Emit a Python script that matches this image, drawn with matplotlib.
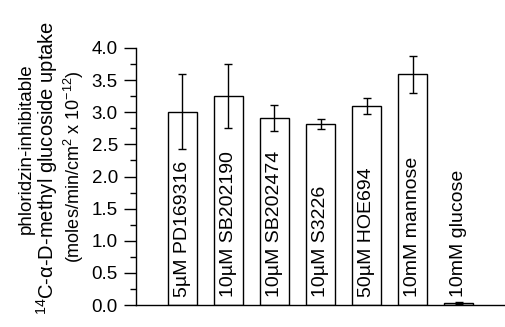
import matplotlib
matplotlib.use("Agg")
import matplotlib.pyplot as plt
from matplotlib.ticker import MultipleLocator

plt.rcParams['font.family'] = ['Liberation Sans', 'DejaVu Sans']
plt.rcParams['mathtext.fontset'] = 'custom'
plt.rcParams['mathtext.rm'] = 'Liberation Sans'
plt.rcParams['mathtext.it'] = 'Liberation Sans:italic'

labels = ["5µM PD169316", "10µM SB202190", "10µM SB202474", "10µM S3226",
          "50µM HOE694", "10mM mannose", "10mM glucose"]
values = [3.01, 3.25, 2.91, 2.82, 3.10, 3.59, 0.03]
errors = [0.58, 0.50, 0.20, 0.08, 0.12, 0.29, 0.02]
yticks = [0.0, 0.5, 1.0, 1.5, 2.0, 2.5, 3.0, 3.5, 4.0]

W, H = 505, 327
fig = plt.figure(figsize=(W / 100, H / 100), dpi=100)
ax = fig.add_axes([136 / W, (H - 305) / H, (W - 136) / W, (305 - 48) / H])

x = list(range(len(values)))
ax.bar(x, values, width=0.63, color='white', edgecolor='black', linewidth=1.0,
       yerr=errors, error_kw=dict(ecolor='black', elinewidth=1.0, capsize=3, capthick=1.0),
       zorder=2)

for xi, lab in zip(x, labels):
    ax.text(xi, 0.12, lab, rotation=90, ha='center', va='bottom', fontsize=14, zorder=3)

ax.set_xlim(-1.0, 7.0)
ax.set_ylim(0, 4.0)
ax.set_yticks(yticks)
ax.set_yticklabels([f"{t:.1f}" for t in yticks], fontsize=13.5)
ax.yaxis.set_minor_locator(MultipleLocator(0.25))
ax.tick_params(axis='y', which='major', length=9, width=1.0, direction='out', pad=4)
ax.tick_params(axis='y', which='minor', length=4, width=1.0, direction='out')
ax.set_xticks([])
for s in ['top', 'right']:
    ax.spines[s].set_visible(False)
ax.spines['left'].set_linewidth(1.0)
ax.spines['bottom'].set_linewidth(1.0)

# y-axis label (three lines)
fig.text(26 / W, 1 - 149 / H, "phloridzin-inhibitable", rotation=90,
         ha='center', va='center', fontsize=13.5)
fig.text(47 / W, 1 - 168 / H, r"$\mathregular{^{14}}$C-α-D-methyl glucoside uptake", rotation=90,
         ha='center', va='center', fontsize=14.5)
fig.text(74 / W, 1 - 167 / H, r"(moles/min/cm$\mathregular{^{2}}$ x 10$\mathregular{^{-12}}$)", rotation=90,
         ha='center', va='center', fontsize=13)

fig.savefig("out.png", dpi=100)
